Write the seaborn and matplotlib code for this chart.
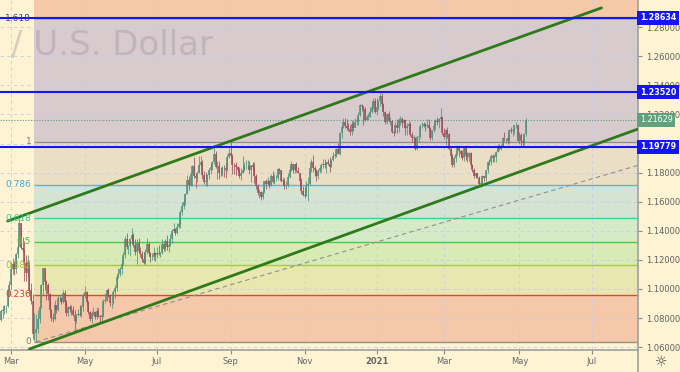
import matplotlib
matplotlib.use("Agg")
import matplotlib.pyplot as plt
from matplotlib.lines import Line2D
import numpy as np
import pandas as pd
import seaborn as sns

# EUR/USD daily candles: (open, high, low, close)
feb20 = [(1.0788, 1.0863, 1.0778, 1.0848), (1.0848, 1.0870, 1.0801, 1.0852), (1.0852, 1.0890, 1.0828, 1.0880),
         (1.0880, 1.0891, 1.0836, 1.0880), (1.0880, 1.1000, 1.0875, 1.0995), (1.0995, 1.1053, 1.0950, 1.1025)]
mar20 = [(1.1025, 1.1185, 1.1000, 1.1138), (1.1138, 1.1214, 1.1105, 1.1172), (1.1172, 1.1190, 1.1096, 1.1137),
         (1.1137, 1.1245, 1.1110, 1.1240), (1.1240, 1.1355, 1.1212, 1.1285), (1.1285, 1.1495, 1.1350, 1.1450),
         (1.1450, 1.1450, 1.1272, 1.1284), (1.1284, 1.1357, 1.1255, 1.1268), (1.1268, 1.1330, 1.1055, 1.1178),
         (1.1178, 1.1230, 1.1054, 1.1107), (1.1107, 1.1236, 1.1090, 1.1186), (1.1186, 1.1190, 1.0975, 1.0993),
         (1.0993, 1.1043, 1.0895, 1.0917), (1.0917, 1.0967, 1.0654, 1.0690), (1.0690, 1.0832, 1.0640, 1.0695),
         (1.0695, 1.0829, 1.0636, 1.0722), (1.0722, 1.0852, 1.0700, 1.0790), (1.0790, 1.0885, 1.0768, 1.0878),
         (1.0878, 1.1035, 1.0870, 1.1030), (1.1030, 1.1147, 1.0955, 1.1142), (1.1142, 1.1145, 1.0995, 1.1045),
         (1.1045, 1.1060, 1.0925, 1.1030)]
apr20 = [(1.1030, 1.1040, 1.0925, 1.0963), (1.0963, 1.0970, 1.0850, 1.0856), (1.0856, 1.0860, 1.0780, 1.0800),
         (1.0800, 1.0835, 1.0770, 1.0794), (1.0794, 1.0926, 1.0787, 1.0890), (1.0890, 1.0890, 1.0832, 1.0858),
         (1.0858, 1.0952, 1.0845, 1.0935), (1.0935, 1.0955, 1.0925, 1.0940), (1.0940, 1.0945, 1.0898, 1.0913),
         (1.0913, 1.0990, 1.0905, 1.0974), (1.0974, 1.0990, 1.0880, 1.0910), (1.0910, 1.0925, 1.0815, 1.0835),
         (1.0835, 1.0880, 1.0812, 1.0875), (1.0875, 1.0890, 1.0840, 1.0863), (1.0863, 1.0887, 1.0820, 1.0857),
         (1.0857, 1.0886, 1.0815, 1.0823), (1.0823, 1.0857, 1.0727, 1.0780), (1.0780, 1.0829, 1.0767, 1.0820),
         (1.0820, 1.0863, 1.0813, 1.0830), (1.0830, 1.0890, 1.0812, 1.0822), (1.0822, 1.0889, 1.0808, 1.0873),
         (1.0873, 1.0973, 1.0850, 1.0955)]
may20 = [(1.0955, 1.1019, 1.0940, 1.0980), (1.0980, 1.0985, 1.0896, 1.0907), (1.0907, 1.0920, 1.0826, 1.0840),
         (1.0840, 1.0850, 1.0782, 1.0795), (1.0795, 1.0845, 1.0767, 1.0832), (1.0832, 1.0875, 1.0818, 1.0840),
         (1.0840, 1.0850, 1.0790, 1.0806), (1.0806, 1.0875, 1.0795, 1.0850), (1.0850, 1.0870, 1.0805, 1.0815),
         (1.0815, 1.0820, 1.0775, 1.0805), (1.0805, 1.0830, 1.0765, 1.0818), (1.0818, 1.0929, 1.0805, 1.0918),
         (1.0918, 1.0975, 1.0900, 1.0920), (1.0920, 1.0995, 1.0920, 1.0990), (1.0990, 1.1009, 1.0945, 1.0948),
         (1.0948, 1.0962, 1.0886, 1.0900), (1.0900, 1.0905, 1.0871, 1.0900), (1.0900, 1.0995, 1.0895, 1.0980),
         (1.0980, 1.1030, 1.0935, 1.1005), (1.1005, 1.1093, 1.0985, 1.1080), (1.1080, 1.1147, 1.1072, 1.1100)]
jun20 = [(1.1100, 1.1150, 1.1090, 1.1135), (1.1135, 1.1195, 1.1106, 1.1170), (1.1170, 1.1257, 1.1164, 1.1235),
         (1.1235, 1.1362, 1.1215, 1.1340), (1.1340, 1.1384, 1.1275, 1.1290), (1.1290, 1.1300, 1.1238, 1.1295),
         (1.1295, 1.1350, 1.1227, 1.1345), (1.1345, 1.1422, 1.1317, 1.1370), (1.1370, 1.1385, 1.1290, 1.1300),
         (1.1300, 1.1346, 1.1230, 1.1255), (1.1255, 1.1340, 1.1168, 1.1318), (1.1318, 1.1353, 1.1246, 1.1262),
         (1.1262, 1.1290, 1.1222, 1.1242), (1.1242, 1.1260, 1.1183, 1.1205), (1.1205, 1.1256, 1.1168, 1.1178),
         (1.1178, 1.1272, 1.1170, 1.1256), (1.1256, 1.1349, 1.1237, 1.1307), (1.1307, 1.1322, 1.1230, 1.1250),
         (1.1250, 1.1257, 1.1185, 1.1220), (1.1220, 1.1248, 1.1200, 1.1220), (1.1220, 1.1285, 1.1200, 1.1245),
         (1.1245, 1.1257, 1.1190, 1.1234)]
jul20 = [(1.1234, 1.1285, 1.1215, 1.1250), (1.1250, 1.1303, 1.1233, 1.1240), (1.1240, 1.1255, 1.1223, 1.1244),
         (1.1244, 1.1346, 1.1240, 1.1308), (1.1308, 1.1318, 1.1260, 1.1274), (1.1274, 1.1345, 1.1260, 1.1330),
         (1.1330, 1.1371, 1.1270, 1.1285), (1.1285, 1.1310, 1.1255, 1.1300), (1.1300, 1.1375, 1.1295, 1.1344),
         (1.1344, 1.1410, 1.1315, 1.1400), (1.1400, 1.1452, 1.1395, 1.1410), (1.1410, 1.1420, 1.1370, 1.1383),
         (1.1383, 1.1450, 1.1380, 1.1428), (1.1428, 1.1470, 1.1420, 1.1445), (1.1445, 1.1540, 1.1420, 1.1527),
         (1.1527, 1.1601, 1.1510, 1.1570), (1.1570, 1.1620, 1.1547, 1.1595), (1.1595, 1.1660, 1.1580, 1.1655),
         (1.1655, 1.1781, 1.1650, 1.1752), (1.1752, 1.1775, 1.1682, 1.1715), (1.1715, 1.1805, 1.1705, 1.1790),
         (1.1790, 1.1850, 1.1710, 1.1845), (1.1845, 1.1909, 1.1760, 1.1778)]
aug20 = [(1.1778, 1.1795, 1.1696, 1.1763), (1.1763, 1.1810, 1.1738, 1.1800), (1.1800, 1.1916, 1.1795, 1.1855),
         (1.1855, 1.1916, 1.1840, 1.1875), (1.1875, 1.1885, 1.1755, 1.1785), (1.1785, 1.1808, 1.1722, 1.1735),
         (1.1735, 1.1806, 1.1711, 1.1740), (1.1740, 1.1791, 1.1710, 1.1785), (1.1785, 1.1830, 1.1753, 1.1815),
         (1.1815, 1.1865, 1.1788, 1.1840), (1.1840, 1.1882, 1.1817, 1.1870), (1.1870, 1.1966, 1.1862, 1.1930),
         (1.1930, 1.1950, 1.1829, 1.1838), (1.1838, 1.1882, 1.1753, 1.1845), (1.1845, 1.1881, 1.1753, 1.1797),
         (1.1797, 1.1841, 1.1780, 1.1795), (1.1795, 1.1848, 1.1780, 1.1835), (1.1835, 1.1853, 1.1770, 1.1830),
         (1.1830, 1.1873, 1.1764, 1.1820), (1.1820, 1.1927, 1.1810, 1.1905), (1.1905, 1.1966, 1.1900, 1.1935)]
sep20 = [(1.1935, 1.2011, 1.1905, 1.1912), (1.1912, 1.1925, 1.1790, 1.1855), (1.1855, 1.1865, 1.1789, 1.1850),
         (1.1850, 1.1873, 1.1782, 1.1838), (1.1838, 1.1846, 1.1809, 1.1817), (1.1817, 1.1837, 1.1765, 1.1780),
         (1.1780, 1.1834, 1.1752, 1.1800), (1.1800, 1.1917, 1.1794, 1.1815), (1.1815, 1.1870, 1.1811, 1.1845),
         (1.1845, 1.1886, 1.1828, 1.1845), (1.1845, 1.1889, 1.1825, 1.1845), (1.1845, 1.1882, 1.1787, 1.1815),
         (1.1815, 1.1850, 1.1737, 1.1850), (1.1850, 1.1873, 1.1825, 1.1840), (1.1840, 1.1872, 1.1731, 1.1775),
         (1.1775, 1.1788, 1.1684, 1.1705), (1.1705, 1.1720, 1.1647, 1.1658), (1.1658, 1.1686, 1.1627, 1.1670),
         (1.1670, 1.1673, 1.1612, 1.1630), (1.1630, 1.1682, 1.1620, 1.1665), (1.1665, 1.1745, 1.1660, 1.1740),
         (1.1740, 1.1754, 1.1684, 1.1720)]
oct20 = [(1.1720, 1.1771, 1.1714, 1.1745), (1.1745, 1.1752, 1.1696, 1.1715), (1.1715, 1.1790, 1.1705, 1.1780),
         (1.1780, 1.1808, 1.1730, 1.1735), (1.1735, 1.1793, 1.1724, 1.1760), (1.1760, 1.1782, 1.1740, 1.1760),
         (1.1760, 1.1831, 1.1752, 1.1825), (1.1825, 1.1831, 1.1787, 1.1815), (1.1815, 1.1820, 1.1735, 1.1745),
         (1.1745, 1.1772, 1.1720, 1.1745), (1.1745, 1.1760, 1.1688, 1.1705), (1.1705, 1.1740, 1.1689, 1.1718),
         (1.1718, 1.1800, 1.1702, 1.1770), (1.1770, 1.1842, 1.1760, 1.1820), (1.1820, 1.1880, 1.1814, 1.1860),
         (1.1860, 1.1860, 1.1794, 1.1815), (1.1815, 1.1860, 1.1800, 1.1860), (1.1860, 1.1870, 1.1802, 1.1812),
         (1.1812, 1.1839, 1.1795, 1.1795), (1.1795, 1.1800, 1.1717, 1.1745), (1.1745, 1.1760, 1.1650, 1.1675),
         (1.1675, 1.1710, 1.1640, 1.1645)]
nov20 = [(1.1645, 1.1695, 1.1622, 1.1640), (1.1640, 1.1745, 1.1636, 1.1715), (1.1715, 1.1770, 1.1603, 1.1720),
         (1.1720, 1.1838, 1.1714, 1.1830), (1.1830, 1.1891, 1.1803, 1.1875), (1.1875, 1.1920, 1.1801, 1.1830),
         (1.1830, 1.1843, 1.1780, 1.1815), (1.1815, 1.1824, 1.1745, 1.1775), (1.1775, 1.1826, 1.1754, 1.1810),
         (1.1810, 1.1840, 1.1797, 1.1835), (1.1835, 1.1865, 1.1805, 1.1855), (1.1855, 1.1893, 1.1832, 1.1860),
         (1.1860, 1.1892, 1.1835, 1.1850), (1.1850, 1.1873, 1.1800, 1.1870), (1.1870, 1.1891, 1.1849, 1.1858),
         (1.1858, 1.1906, 1.1801, 1.1840), (1.1840, 1.1893, 1.1838, 1.1890), (1.1890, 1.1942, 1.1880, 1.1915),
         (1.1915, 1.1931, 1.1900, 1.1915), (1.1915, 1.1966, 1.1910, 1.1960), (1.1960, 1.2004, 1.1925, 1.1930)]
dec20 = [(1.1930, 1.2077, 1.1924, 1.2070), (1.2070, 1.2123, 1.2040, 1.2115), (1.2115, 1.2176, 1.2110, 1.2145),
         (1.2145, 1.2178, 1.2110, 1.2120), (1.2120, 1.2167, 1.2090, 1.2105), (1.2105, 1.2142, 1.2085, 1.2100),
         (1.2100, 1.2128, 1.2060, 1.2080), (1.2080, 1.2165, 1.2058, 1.2135), (1.2135, 1.2158, 1.2083, 1.2110),
         (1.2110, 1.2178, 1.2112, 1.2145), (1.2145, 1.2176, 1.2126, 1.2150), (1.2150, 1.2220, 1.2128, 1.2195),
         (1.2195, 1.2273, 1.2187, 1.2265), (1.2265, 1.2272, 1.2222, 1.2255), (1.2255, 1.2257, 1.2130, 1.2240),
         (1.2240, 1.2251, 1.2153, 1.2160), (1.2160, 1.2199, 1.2160, 1.2185), (1.2185, 1.2212, 1.2163, 1.2185),
         (1.2185, 1.2250, 1.2180, 1.2215), (1.2215, 1.2276, 1.2209, 1.2250), (1.2250, 1.2310, 1.2240, 1.2295),
         (1.2295, 1.2310, 1.2210, 1.2215)]
jan21 = [(1.2215, 1.2310, 1.2195, 1.2250), (1.2250, 1.2300, 1.2228, 1.2295), (1.2295, 1.2349, 1.2255, 1.2325),
         (1.2325, 1.2345, 1.2250, 1.2270), (1.2270, 1.2280, 1.2192, 1.2220), (1.2220, 1.2225, 1.2132, 1.2150),
         (1.2150, 1.2210, 1.2133, 1.2205), (1.2205, 1.2222, 1.2145, 1.2155), (1.2155, 1.2185, 1.2127, 1.2155),
         (1.2155, 1.2165, 1.2070, 1.2080), (1.2080, 1.2090, 1.2054, 1.2075), (1.2075, 1.2145, 1.2070, 1.2130),
         (1.2130, 1.2170, 1.2074, 1.2105), (1.2105, 1.2176, 1.2080, 1.2165), (1.2165, 1.2190, 1.2130, 1.2170),
         (1.2170, 1.2180, 1.2115, 1.2140), (1.2140, 1.2170, 1.2105, 1.2160), (1.2160, 1.2165, 1.2060, 1.2110),
         (1.2110, 1.2140, 1.2060, 1.2120), (1.2120, 1.2155, 1.2080, 1.2135)]
feb21 = [(1.2135, 1.2150, 1.2055, 1.2060), (1.2060, 1.2082, 1.2011, 1.2040), (1.2040, 1.2060, 1.2005, 1.2040),
         (1.2040, 1.2048, 1.1953, 1.1965), (1.1965, 1.2051, 1.1952, 1.2045), (1.2045, 1.2055, 1.2010, 1.2050),
         (1.2050, 1.2135, 1.2040, 1.2120), (1.2120, 1.2150, 1.2110, 1.2120), (1.2120, 1.2150, 1.2115, 1.2135),
         (1.2135, 1.2140, 1.2085, 1.2120), (1.2120, 1.2170, 1.2110, 1.2130), (1.2130, 1.2169, 1.2090, 1.2105),
         (1.2105, 1.2115, 1.2023, 1.2040), (1.2040, 1.2095, 1.2022, 1.2090), (1.2090, 1.2145, 1.2078, 1.2120),
         (1.2120, 1.2167, 1.2090, 1.2155), (1.2155, 1.2180, 1.2130, 1.2150), (1.2150, 1.2175, 1.2110, 1.2170),
         (1.2170, 1.2243, 1.2165, 1.2180), (1.2180, 1.2185, 1.2062, 1.2075)]
mar21 = [(1.2075, 1.2110, 1.2030, 1.2045), (1.2045, 1.2095, 1.1990, 1.2090), (1.2090, 1.2113, 1.2040, 1.2065),
         (1.2065, 1.2075, 1.1955, 1.1965), (1.1965, 1.1975, 1.1894, 1.1915), (1.1915, 1.1930, 1.1836, 1.1850),
         (1.1850, 1.1912, 1.1840, 1.1900), (1.1900, 1.1935, 1.1873, 1.1930), (1.1930, 1.1989, 1.1923, 1.1985),
         (1.1985, 1.1990, 1.1910, 1.1950), (1.1950, 1.1957, 1.1910, 1.1930), (1.1930, 1.1952, 1.1890, 1.1900),
         (1.1900, 1.1985, 1.1883, 1.1980), (1.1980, 1.1990, 1.1890, 1.1915), (1.1915, 1.1940, 1.1874, 1.1905),
         (1.1905, 1.1945, 1.1883, 1.1935), (1.1935, 1.1942, 1.1840, 1.1850), (1.1850, 1.1857, 1.1805, 1.1815),
         (1.1815, 1.1830, 1.1762, 1.1780), (1.1780, 1.1800, 1.1765, 1.1795), (1.1795, 1.1798, 1.1762, 1.1765),
         (1.1765, 1.1780, 1.1712, 1.1720), (1.1720, 1.1745, 1.1704, 1.1730)]
apr21 = [(1.1730, 1.1782, 1.1714, 1.1775), (1.1775, 1.1779, 1.1740, 1.1765), (1.1765, 1.1820, 1.1740, 1.1815),
         (1.1815, 1.1877, 1.1795, 1.1875), (1.1875, 1.1895, 1.1850, 1.1870), (1.1870, 1.1927, 1.1855, 1.1915),
         (1.1915, 1.1925, 1.1870, 1.1900), (1.1900, 1.1925, 1.1870, 1.1910), (1.1910, 1.1950, 1.1875, 1.1945),
         (1.1945, 1.1995, 1.1940, 1.1980), (1.1980, 1.1995, 1.1955, 1.1965), (1.1965, 1.1995, 1.1955, 1.1985),
         (1.1985, 1.2048, 1.1975, 1.2040), (1.2040, 1.2080, 1.2015, 1.2035), (1.2035, 1.2040, 1.2001, 1.2035),
         (1.2035, 1.2072, 1.1995, 1.2015), (1.2015, 1.2100, 1.2003, 1.2095), (1.2095, 1.2117, 1.2070, 1.2085),
         (1.2085, 1.2100, 1.2055, 1.2090), (1.2090, 1.2130, 1.2065, 1.2125), (1.2125, 1.2150, 1.2105, 1.2125),
         (1.2125, 1.2135, 1.2016, 1.2020)]
may21 = [(1.2020, 1.2080, 1.1995, 1.2060), (1.2060, 1.2075, 1.1985, 1.2015), (1.2015, 1.2030, 1.1985, 1.2005),
         (1.2005, 1.2070, 1.1990, 1.2065), (1.2065, 1.2173, 1.2052, 1.21629)]

month_keys = ['2020-02', '2020-03', '2020-04', '2020-05', '2020-06', '2020-07', '2020-08', '2020-09',
              '2020-10', '2020-11', '2020-12', '2021-01', '2021-02', '2021-03', '2021-04', '2021-05']
month_bars = [feb20, mar20, apr20, may20, jun20, jul20, aug20, sep20,
              oct20, nov20, dec20, jan21, feb21, mar21, apr21, may21]
holidays = ['2020-12-25', '2021-01-01']

# fibonacci retracement drawn from the March 2020 low to the September 2020 high
fib_start = '2020-03-20'
fib_low = 1.0636
fib_high = 1.2011
fib_levels = [0, 0.236, 0.382, 0.5, 0.618, 0.786, 1, 1.618]
fib_labels = ['0', '0.236', '0.382', '0.5', '0.618', '0.786', '1', '1.618']
fib_line_colors = ['#9a8f88', '#e8423a', '#a8c93a', '#4cc94c', '#3ccf9c', '#5db2e2', '#8e8e8e', '#3a3ad0']
fib_text_colors = ['#808080', '#e23b36', '#a3c230', '#45c445', '#35c795', '#45a6dc', '#7c7c7c', '#3a3a9a']
fib_zone_colors = ['#f4c8a8', '#e9e7b0', '#d8ebb4', '#d5ebc8', '#d5e3d3', '#eadfc4', '#d8cbcd', '#f5c8a8']

# horizontal levels and last price
hlevels = [1.28634, 1.23520, 1.19779]
last_price = 1.21629

# trend lines (date, price)
chan_upper = [('2020-02-27', 1.1467), ('2021-07-09', 1.2933)]
chan_lower = [('2020-03-17', 1.0587), ('2021-03-31', 1.1709)]
dash_line = [('2020-03-23', 1.0636), ('2021-03-31', 1.1533)]

price_ticks = [1.06, 1.08, 1.10, 1.12, 1.14, 1.16, 1.18, 1.20, 1.22, 1.24, 1.26, 1.28]
price_tick_labels = ['1.06000', '1.08000', '1.10000', '1.12000', '1.14000', '1.16000', '1.18000', '',
                     '1.22000', '1.24000', '1.26000', '1.28000']
tick_dates = ['2020-03-02', '2020-05-01', '2020-07-01', '2020-09-01', '2020-11-02',
              '2021-01-04', '2021-03-01', '2021-05-03', '2021-07-01']
tick_labels = ['Mar', 'May', 'Jul', 'Sep', 'Nov', '2021', 'Mar', 'May', 'Jul']

BG = '#fef3d3'
UP = '#4f8f79'
DOWN = '#9e4c58'

sns.set_theme(style='white')
plt.rcParams['font.family'] = ['DejaVu Sans']

# bar index calendar (weekdays only, like the trading platform)
cal = pd.bdate_range('2020-02-21', '2021-09-30')
cal = cal[~cal.isin(pd.to_datetime(holidays))]
pos = pd.Series(np.arange(len(cal)) - cal.get_loc(pd.Timestamp('2020-03-02')), index=cal)

rows = []
for key, bars in zip(month_keys, month_bars):
    days = cal[cal.strftime('%Y-%m') == key][:len(bars)]
    assert len(days) == len(bars), key
    for d, (o, h, l, c) in zip(days, bars):
        rows.append((pos[d], o, h, l, c))
df = pd.DataFrame(rows, columns=['x', 'o', 'h', 'l', 'c'])


def to_xy(points):
    return [pos[pd.Timestamp(d)] for d, p in points], [p for d, p in points]


fig = plt.figure(figsize=(6.8, 3.72), dpi=100)
fig.patch.set_facecolor(BG)
ax = fig.add_axes([0, 22 / 372, 638 / 680, 350 / 372])
ax.set_facecolor(BG)

xmin, xmax = -6.56, 373.7
ymin, ymax = 1.0580, 1.2987

# fib zones and levels
x_fib = pos[pd.Timestamp(fib_start)] - 0.3
fib_prices = [fib_low + lv * (fib_high - fib_low) for lv in fib_levels]
bounds = fib_prices + [ymax]
for i, col in enumerate(fib_zone_colors):
    ax.fill_between([x_fib, xmax], bounds[i], bounds[i + 1], color=col, lw=0, zorder=0.1)
for p, lab, lc, tc in zip(fib_prices, fib_labels, fib_line_colors, fib_text_colors):
    ax.hlines(p, x_fib, xmax, colors=lc, lw=1.0, zorder=1.5)
    ax.annotate(lab, (x_fib, p), xytext=(-2, 0), textcoords='offset points', ha='right', va='center',
                fontsize=6.5, color=tc, zorder=6)

# watermark
ax.text(213 / 638, 1 - 55 / 350, 'Euro / U.S. Dollar', transform=ax.transAxes, ha='right', va='baseline',
        fontsize=24.5, color='#9c94a6', alpha=0.4, zorder=0.3, clip_on=True)

# candles
up = df['c'] >= df['o']
cols = np.where(up, UP, DOWN)
body_lo = np.minimum(df['o'], df['c'])
body_hi = np.maximum(np.maximum(df['o'], df['c']), body_lo + 0.0003)
ax.vlines(df['x'], df['l'], df['h'], colors=cols, lw=0.55, zorder=3)
ax.vlines(df['x'], body_lo, body_hi, colors=cols, lw=1.1, zorder=3.1)

# price line and horizontal levels
ax.axhline(last_price, color='#5b9c85', lw=0.8, ls=(0, (1, 1.5)), zorder=2)
for v in hlevels:
    ax.axhline(v, color='#1414f5', lw=1.5, zorder=5)

# trend lines
ux, uy = to_xy(chan_upper)
sns.lineplot(x=ux, y=uy, color='#2e7a1a', lw=2.0, ax=ax, zorder=4)
lx, ly = to_xy(chan_lower)
slope = (ly[1] - ly[0]) / (lx[1] - lx[0])
sns.lineplot(x=[lx[0], xmax], y=[ly[0], ly[0] + slope * (xmax - lx[0])], color='#2e7a1a', lw=2.0, ax=ax, zorder=4)
dx, dy = to_xy(dash_line)
dslope = (dy[1] - dy[0]) / (dx[1] - dx[0])
sns.lineplot(x=[dx[0], xmax], y=[dy[0], dy[0] + dslope * (xmax - dx[0])], color='#8f8f8f', lw=0.8,
             ls=(0, (4, 3)), ax=ax, zorder=2.5)

# axes
ax.set_xlim(xmin, xmax)
ax.set_ylim(ymin, ymax)
ax.yaxis.tick_right()
ax.set_yticks(price_ticks)
ax.set_yticklabels(price_tick_labels)
ax.set_xticks([pos[pd.Timestamp(d)] for d in tick_dates])
ax.set_xticklabels(tick_labels)
for t in ax.get_xticklabels():
    if t.get_text() == '2021':
        t.set_fontweight('bold')
        t.set_color('#444444')
ax.tick_params(axis='y', which='both', right=True, left=False, length=3, width=0.8, color='#888888',
               labelsize=6, labelcolor='#606060', pad=2.5)
ax.tick_params(axis='x', bottom=True, length=3, width=0.8, color='#888888', labelsize=6,
               labelcolor='#666666', pad=2)
ax.grid(True, color='#c6cbe8', lw=0.6, ls=(0, (4, 4)))
ax.set_axisbelow(True)
for side in ['left', 'top']:
    ax.spines[side].set_visible(False)
for side in ['right', 'bottom']:
    ax.spines[side].set_visible(True)
    ax.spines[side].set_color('#a0a0a0')
    ax.spines[side].set_linewidth(1.2)

# price axis labels
trans = ax.get_yaxis_transform()
for v in hlevels:
    ax.text(1.003, v, f'{v:.5f}', transform=trans, ha='left', va='center', fontsize=5.8, color='white',
            fontweight='bold', bbox=dict(boxstyle='square,pad=0.32', fc='#1414f5', ec='none'),
            clip_on=False, zorder=10)
ax.text(1.003, last_price, f'{last_price:.5f}', transform=trans, ha='left', va='center', fontsize=5.8,
        color='white', bbox=dict(boxstyle='square,pad=0.32', fc='#62a07e', ec='none'), clip_on=False, zorder=10)

fig.add_artist(Line2D([638 / 680, 638 / 680], [0, 22 / 372], color='#a0a0a0', lw=1.2))
fig.text(661 / 680, 10 / 372, '\u263c', ha='center', va='center', fontsize=10, color='#444444')

fig.savefig('out.png', dpi=100, facecolor=BG)
